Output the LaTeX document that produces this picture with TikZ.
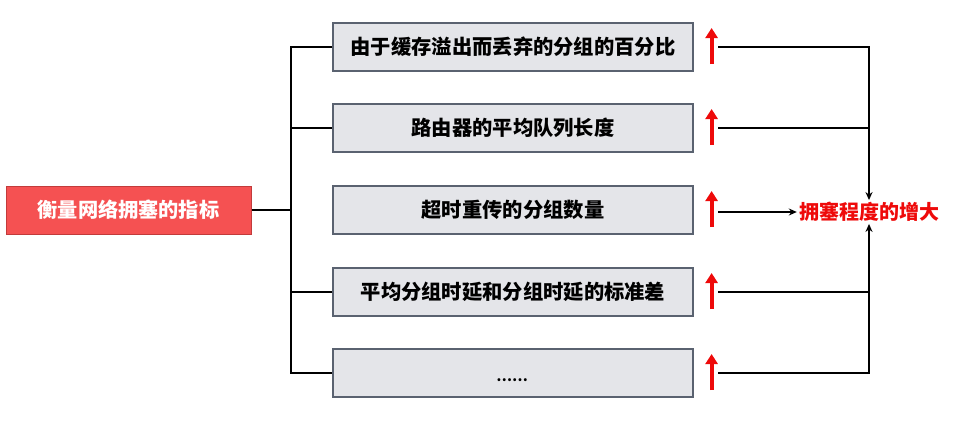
\documentclass[tikz,border=0pt]{standalone}
\usepackage{fontspec}
\newfontfamily\cjk{Noto Sans CJK SC}
\usetikzlibrary{arrows.meta}
\definecolor{hdred}{HTML}{F55152}
\definecolor{hdredline}{HTML}{C23B3B}
\definecolor{boxfill}{HTML}{E4E5E9}
\definecolor{boxline}{HTML}{5A6270}
\definecolor{upred}{HTML}{EE0A0A}
\tikzset{
  itembox/.style={draw=boxline, line width=1.2pt, fill=boxfill, minimum width=360pt, minimum height=48pt, inner sep=0pt, font=\cjk\bfseries\fontsize{20.3}{20.3}\selectfont, text=black},
  rootbox/.style={draw=hdredline, line width=1pt, fill=hdred, minimum width=245pt, minimum height=48pt, inner sep=0pt, font=\cjk\bfseries\fontsize{20.2}{20.2}\selectfont, text=white},
  conn/.style={line width=2pt, black},
  uparrow/.style={line width=4pt, upred, -{Triangle[width=12pt,length=10pt]}},
  tip/.style={-{Stealth[length=8pt,width=7pt]}}
}
\begin{document}
\begin{tikzpicture}[x=1pt,y=-1pt]
\useasboundingbox (0,0) rectangle (964,437);
\node[rootbox] (root) at (128.5,210) {衡量网络拥塞的指标};
\node[itembox] (b1) at (513,47) {由于缓存溢出而丢弃的分组的百分比};
\node[itembox] (b2) at (513,128) {路由器的平均队列长度};
\node[itembox] (b3) at (513,210) {超时重传的分组数量};
\node[itembox] (b4) at (513,292) {平均分组时延和分组时延的标准差};
\node[itembox] (b5) at (513,373) {};
\node[font=\cjk\bfseries\fontsize{14}{14}\selectfont, inner sep=0pt] (dots) at (512,380) {……};
\node[font=\cjk\bfseries\fontsize{20}{20}\selectfont, text=upred, inner sep=2pt] (res) at (869,212) {拥塞程度的增大};
% left tree
\coordinate (trunk) at (291,210);
\draw[conn] (root.east) -- (trunk);
\draw[conn] (b1.west) -| (291,128) |- (b2.west);
\draw[conn] (291,128) -- (291,292);
\draw[conn] (b4.west) -- (291,292) -- (291,373) -- (b5.west);
% red arrows
\foreach \n in {b1,b2,b3,b4,b5}{
  \coordinate (\n lo) at ([xshift=18pt,yshift=-17pt]\n.east);
  \coordinate (\n hi) at ([xshift=18pt,yshift=19pt]\n.east);
  \draw[uparrow] (\n lo) -- (\n hi);
}
% right side
\coordinate (r1) at (718,47);
\coordinate (r2) at (718,128);
\coordinate (r3) at (718,212);
\coordinate (r4) at (718,292);
\coordinate (r5) at (718,373);
\draw[conn,line width=1.6pt,tip] (r1) -| (res.north);
\draw[conn,line width=1.6pt] (r2) -- (870,128);
\draw[conn,line width=1.6pt,tip] (r3) -- (res.west);
\draw[conn,line width=1.6pt] (r4) -- (870,292);
\draw[conn,line width=1.6pt,tip] (r5) -| (res.south);
\end{tikzpicture}
\end{document}
